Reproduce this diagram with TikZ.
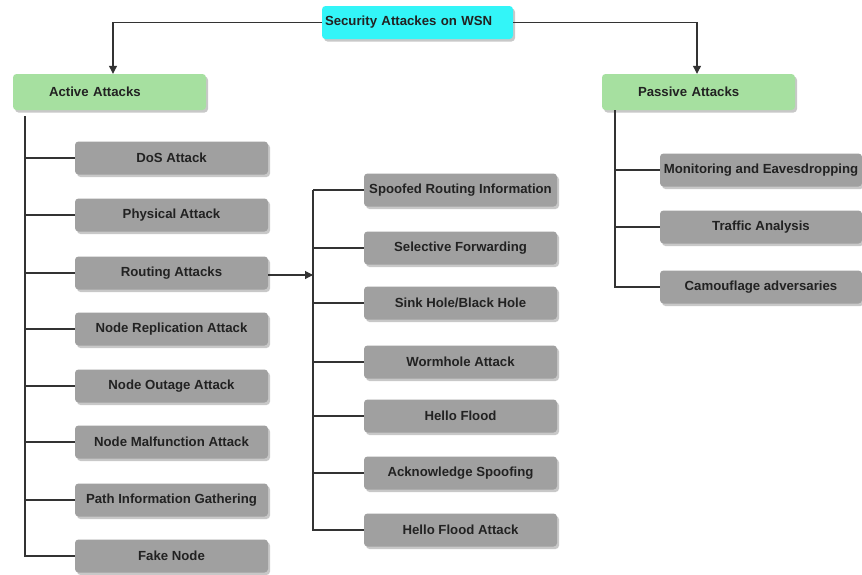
\documentclass[tikz,border=0pt]{standalone}
\usepackage{fontspec}
\setmainfont{Liberation Sans}
\usetikzlibrary{arrows.meta,shadows}
\definecolor{boxgrey}{HTML}{A0A0A0}
\definecolor{shadegrey}{HTML}{C8C8C8}
\definecolor{leafgreen}{HTML}{A6E0A0}
\definecolor{rootcyan}{HTML}{33F5F8}
\definecolor{ink}{HTML}{222222}
\definecolor{wire}{HTML}{333333}
\tikzset{
  base/.style={rounded corners=3.5pt, font=\bfseries\fontsize{13.2}{15}\selectfont,
    text=ink, inner ysep=0pt, minimum height=33pt,
    drop shadow={shadow xshift=2pt, shadow yshift=-2.5pt, fill=shadegrey, opacity=1}},
  itembox/.style={base, fill=boxgrey, minimum width=193pt, inner xsep=0pt},
  groupbox/.style={base, fill=leafgreen, minimum height=36pt, text width=121pt,
    inner xsep=36pt, align=left},
  rootbox/.style={base, fill=rootcyan, minimum height=33pt, text width=185pt,
    inner xsep=3pt, align=left},
  wireline/.style={draw=wire, line width=1.1pt},
  arrowline/.style={wireline, -{Triangle[length=8pt,width=8pt]}}
}
\begin{document}
\begin{tikzpicture}[x=1pt,y=-1pt]
\useasboundingbox[fill=white] (0,0) rectangle (862,574);

% top level
\node[rootbox] (root) at (417.5,22.5) {Security Attackes on WSN};
\node[groupbox] (active) at (109.5,92) {Active Attacks};
\node[groupbox] (passive) at (698.5,92) {Passive Attacks};

% active attacks
\node[itembox] (dos)  at (171.5,158) {DoS Attack};
\node[itembox] (phys) at (171.5,215) {Physical Attack};
\node[itembox] (rout) at (171.5,273) {Routing Attacks};
\node[itembox] (repl) at (171.5,329) {Node Replication Attack};
\node[itembox] (outg) at (171.5,386) {Node Outage Attack};
\node[itembox] (malf) at (171.5,442) {Node Malfunction Attack};
\node[itembox] (path) at (171.5,500) {Path Information Gathering};
\node[itembox] (fake) at (171.5,556) {Fake Node};

% routing attacks
\node[itembox] (spoof) at (460.5,190) {Spoofed Routing Information};
\node[itembox] (selfw) at (460.5,248) {Selective Forwarding};
\node[itembox] (sink)  at (460.5,303) {Sink Hole/Black Hole};
\node[itembox] (worm)  at (460.5,362) {Wormhole Attack};
\node[itembox] (hello) at (460.5,416) {Hello Flood};
\node[itembox] (ack)   at (460.5,473) {Acknowledge Spoofing};
\node[itembox] (hfa)   at (460.5,530) {Hello Flood Attack};

% passive attacks
\node[itembox, minimum width=202pt] (mon) at (761,170) {Monitoring and Eavesdropping};
\node[itembox, minimum width=202pt] (traf) at (761,227) {Traffic Analysis};
\node[itembox, minimum width=202pt] (camo) at (761,287) {Camouflage adversaries};

% root to groups
\draw[arrowline] (root.west) -| (active.north -| 113,0);
\draw[arrowline] (root.east) -| (passive.north -| 697,0);

% active trunk
\coordinate (atop) at (25,116);
\draw[wireline] (atop) |- (fake.west);
\foreach \n in {dos,phys,rout,repl,outg,malf,path}
  \draw[wireline] (atop |- \n.west) -- (\n.west);

% routing branch
\coordinate (rtrunk) at (313,0);
\draw[wireline] (rtrunk |- spoof.west) -- (rtrunk |- hfa.west) -- (hfa.west);
\foreach \n in {spoof,selfw,sink,worm,hello,ack}
  \draw[wireline] (rtrunk |- \n.west) -- (\n.west);
\draw[arrowline] (rout.east) ++(0,2) -- (rtrunk |- 0,275);

% passive trunk
\coordinate (ptrunk) at (615,0);
\draw[wireline] (ptrunk |- passive.south) |- (camo.west);
\foreach \n in {mon,traf}
  \draw[wireline] (ptrunk |- \n.west) -- (\n.west);
\end{tikzpicture}
\end{document}
